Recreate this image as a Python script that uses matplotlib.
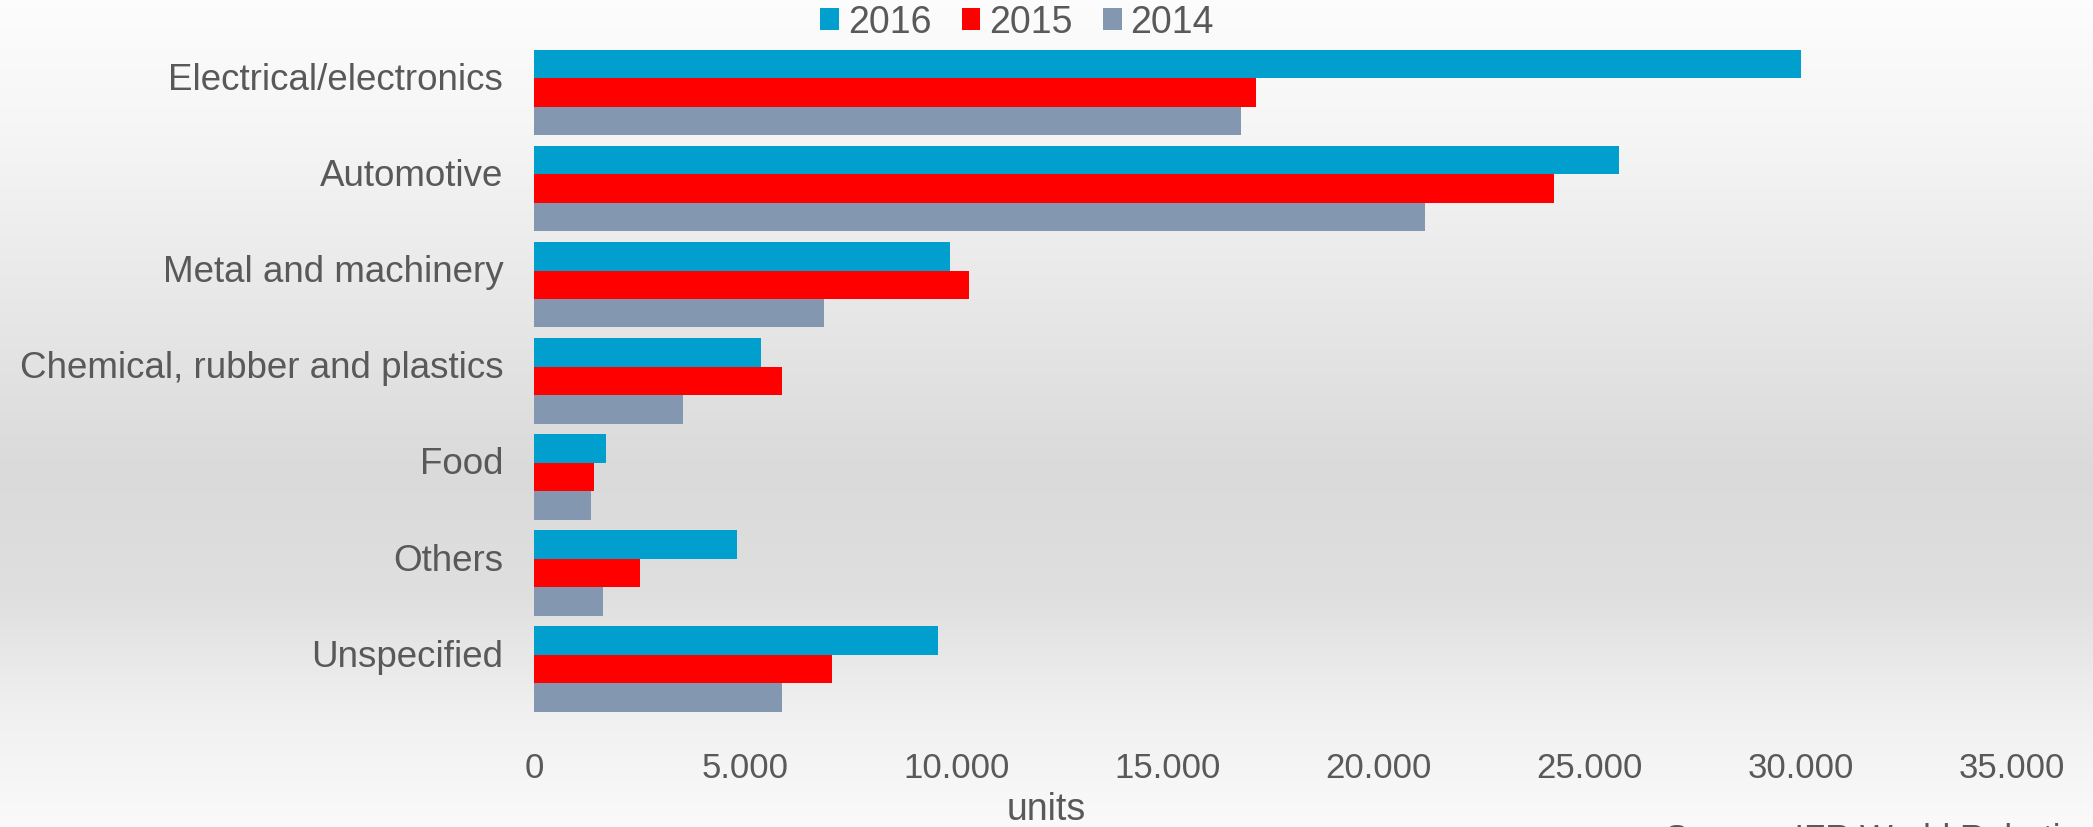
import numpy as np
import matplotlib
matplotlib.use("Agg")
import matplotlib.pyplot as plt
from matplotlib.ticker import FuncFormatter
from matplotlib.transforms import ScaledTranslation

plt.rcParams['font.family'] = ['Liberation Sans', 'DejaVu Sans']

categories = ['Electrical/electronics', 'Automotive', 'Metal and machinery',
              'Chemical, rubber and plastics', 'Food', 'Others', 'Unspecified']
years = ['2016', '2015', '2014']
v2016 = [30000, 25700, 9850, 5370, 1700, 4820, 9560]
v2015 = [17100, 24150, 10300, 5870, 1420, 2520, 7070]
v2014 = [16750, 21100, 6880, 3520, 1350, 1630, 5870]
colors = ['#009fcd', '#ff0000', '#8497b0']
grey = '#595959'

fig = plt.figure(figsize=(20.93, 8.28), dpi=100)

# background gradient (light top, darker middle, light bottom)
bg = fig.add_axes([0, 0, 1, 1], zorder=-5)
yy = np.linspace(0, 1, 400)
shade = np.interp(yy, [0, 0.15, 0.4, 0.57, 0.72, 0.87, 1],
                  [0.99, 0.965, 0.9, 0.855, 0.875, 0.945, 0.98])
img = np.repeat(shade[:, None, None], 3, axis=2).repeat(4, axis=1)
bg.imshow(img, aspect='auto', extent=[0, 1, 1, 0], interpolation='bilinear')
bg.set_xlim(0, 1)
bg.set_ylim(1, 0)
bg.axis('off')

ax = fig.add_axes([0.2551, 0.1326, 0.9613 - 0.2551, 0.945 - 0.1326])
ax.patch.set_alpha(0)

y = np.arange(len(categories))
h = 0.2963
for i, (vals, c, lab) in enumerate(zip([v2016, v2015, v2014], colors, years)):
    ax.barh(y + (i - 1) * h, vals, height=h, color=c, label=lab)

ax.set_xlim(0, 35000)
ax.set_ylim(6.5, -0.5)
ax.set_xticks(np.arange(0, 35001, 5000))
ax.xaxis.set_major_formatter(FuncFormatter(lambda v, p: f'{int(v):,}'.replace(',', '.')))
ax.set_yticks(y)
ax.set_yticklabels(categories)
ax.tick_params(axis='x', length=0, pad=24, labelsize=25, labelcolor=grey)
ax.tick_params(axis='y', length=0, pad=22, labelsize=26.5, labelcolor=grey)
# category labels sit a little above the bar groups
for lab in ax.get_yticklabels():
    lab.set_transform(lab.get_transform() + ScaledTranslation(0, 0.17, fig.dpi_scale_trans))
for s in ax.spines.values():
    s.set_visible(False)

fig.legend(loc='center', bbox_to_anchor=(0.486, 0.972), ncol=3, frameon=False,
           fontsize=27, labelcolor=grey, handlelength=0.5, handleheight=0.5,
           handletextpad=0.24, columnspacing=0.8, borderaxespad=0, borderpad=0)

fig.text(0.5, 1 - 810 / 828, 'units', ha='center', va='center', fontsize=27, color=grey)
fig.text(1665 / 2093, 1 - 823 / 828, 'Source: IFR World Robotics 2017', ha='left', va='top',
         fontsize=25, color=grey)

fig.savefig('out.png', dpi=100)
